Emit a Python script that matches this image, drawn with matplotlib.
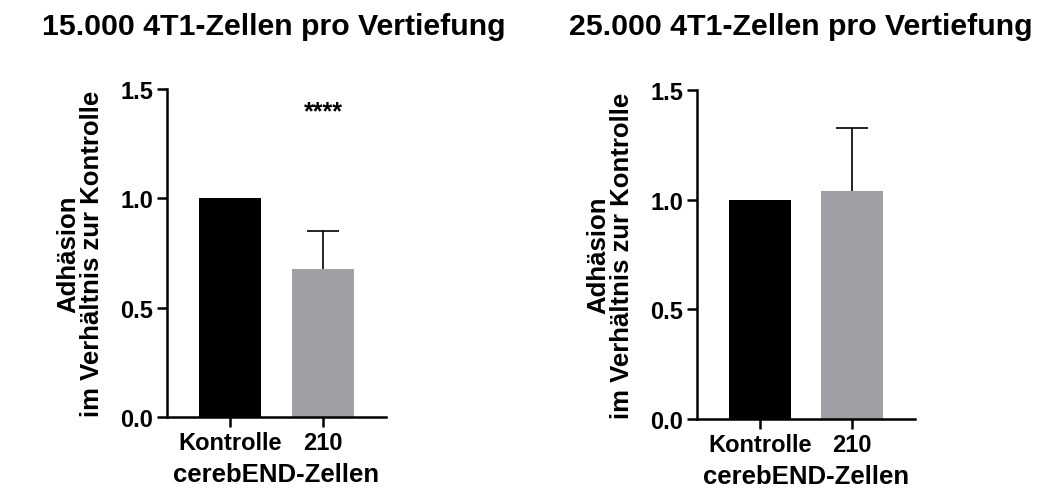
import numpy as np
import matplotlib.pyplot as plt

plt.rcParams['font.family'] = ['Liberation Sans', 'DejaVu Sans']
plt.rcParams['font.weight'] = 'bold'
plt.rcParams['axes.labelweight'] = 'bold'

# Daten
gruppen = ["Kontrolle", "210"]
titel = ["15.000 4T1-Zellen pro Vertiefung", "25.000 4T1-Zellen pro Vertiefung"]
werte_15000 = [1.0, 0.675]
fehler_15000 = [0.0, 0.175]
werte_25000 = [1.0, 1.04]
fehler_25000 = [0.0, 0.285]
signifikanz = ["", "****"]
farben = ["#000000", "#a09fa4"]

fig = plt.figure(figsize=(10.46, 5.02), dpi=100)
W, H = 1046, 502

# Achsen in Pixel (links, oben, rechts, unten)
boxen = [(167, 90, 386, 418), (697, 91, 915, 420)]
titel_x = [274, 801]
daten = [(werte_15000, fehler_15000, signifikanz), (werte_25000, fehler_25000, ["", ""])]

for i, (l, t, r, b) in enumerate(boxen):
    ax = fig.add_axes([l / W, 1 - b / H, (r - l) / W, (b - t) / H])
    werte, fehler, sig = daten[i]
    x = np.arange(len(gruppen))
    ax.bar(x, werte, width=0.667, color=farben, zorder=2)
    # Fehlerbalken nur nach oben
    for xi, w, e in zip(x, werte, fehler):
        if e > 0:
            ax.vlines(xi, w, w + e, color='black', linewidth=1.2, zorder=1)
            ax.hlines(w + e, xi - 0.17, xi + 0.17, color='black', linewidth=1.2, zorder=1)
    for xi, s in zip(x, sig):
        if s:
            ax.text(xi, 1.40, s, ha='center', va='center', fontsize=18, fontweight='bold')
    ax.set_xlim(-0.68, 1.68)
    ax.set_ylim(0, 1.5)
    ax.set_yticks([0, 0.5, 1.0, 1.5])
    ax.set_yticklabels(["0.0", "0.5", "1.0", "1.5"], fontweight='bold')
    ax.set_xticks(x)
    ax.set_xticklabels(gruppen, fontweight='bold')
    for s in ['top', 'right']:
        ax.spines[s].set_visible(False)
    for s in ['left', 'bottom']:
        ax.spines[s].set_linewidth(1.8)
    ax.tick_params(axis='both', width=1.8, length=7, labelsize=17, pad=3)
    ax.set_ylabel("Adhäsion\nim Verhältnis zur Kontrolle", fontsize=18.5, labelpad=12, linespacing=0.95)
    ax.set_xlabel("cerebEND-Zellen", fontsize=18.5, labelpad=6)
    fig.text(titel_x[i] / W, 1 - 27 / H, titel[i], ha='center', va='center', fontsize=21.8, fontweight='bold')

fig.savefig("out.png", dpi=100)
